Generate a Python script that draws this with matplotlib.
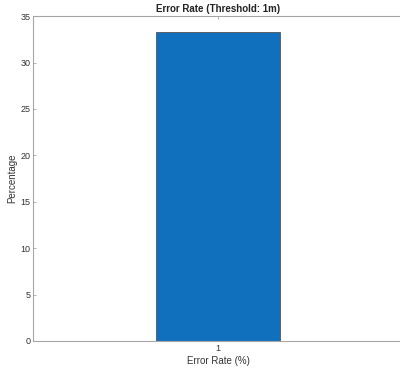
import matplotlib
matplotlib.use("Agg")
import matplotlib.pyplot as plt

categories = [1]
values = [33.33]
yticks = [0, 5, 10, 15, 20, 25, 30, 35]

plt.rcParams['font.family'] = ['Liberation Sans', 'DejaVu Sans']

fig = plt.figure(figsize=(4, 3.7), dpi=100)
ax = fig.add_axes([0.0825, 0.0784, 0.925, 0.878])
ax.bar(categories, values, width=0.4, color='#1170BE', edgecolor='#555555', linewidth=0.6, zorder=2)
ax.set_xlim(0.4, 1.6)
ax.set_ylim(0, 35)
ax.set_xticks(categories)
ax.set_yticks(yticks)
for s in ax.spines.values():
    s.set_color('#a6a6a6')
    s.set_linewidth(0.8)
ax.tick_params(direction='in', length=2.5, width=0.6, colors='#a6a6a6', labelcolor='#333333',
               labelsize=6.5, top=True, right=True, pad=2)
ax.set_title('Error Rate (Threshold: 1m)', fontsize=7, fontweight='bold', color='#222222', pad=3)
ax.set_xlabel('Error Rate (%)', fontsize=7, color='#333333', labelpad=2)
ax.set_ylabel('Percentage', fontsize=7, color='#333333', labelpad=2.5)
fig.savefig('out.png', dpi=100)
